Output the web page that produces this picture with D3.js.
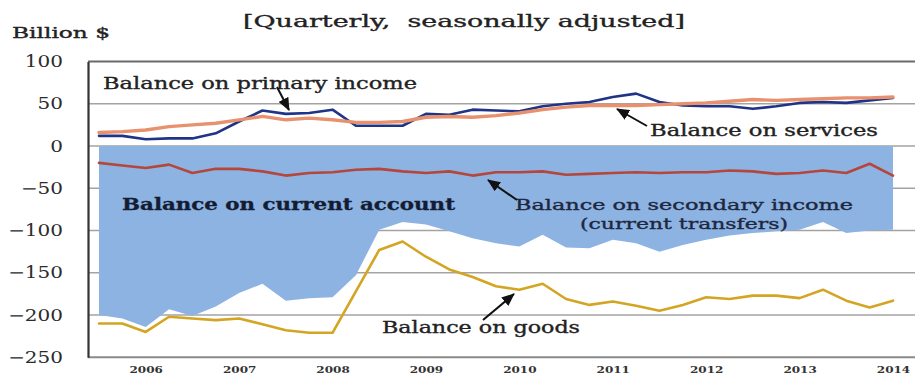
<!DOCTYPE html>
<html>
<head>
<meta charset="utf-8">
<script src="https://cdn.jsdelivr.net/npm/d3@7"></script>
<style>
  html, body { margin: 0; padding: 0; background: #fff; }
  svg { display: block; }
  text { font-family: "DejaVu Serif", "Liberation Serif", serif; }
</style>
</head>
<body>
<svg id="chart" width="915" height="376"></svg>
<script>
// Quarterly categories, 2005 Q3 through 2014 Q1
const quarters = [
  "2005Q3","2005Q4",
  "2006Q1","2006Q2","2006Q3","2006Q4",
  "2007Q1","2007Q2","2007Q3","2007Q4",
  "2008Q1","2008Q2","2008Q3","2008Q4",
  "2009Q1","2009Q2","2009Q3","2009Q4",
  "2010Q1","2010Q2","2010Q3","2010Q4",
  "2011Q1","2011Q2","2011Q3","2011Q4",
  "2012Q1","2012Q2","2012Q3","2012Q4",
  "2013Q1","2013Q2","2013Q3","2013Q4",
  "2014Q1"
];
const yearLabels = ["2006","2007","2008","2009","2010","2011","2012","2013","2014"];
const yTicks = [100, 50, 0, -50, -100, -150, -200, -250];

// Balances, billion dollars
const currentAccount = [-200,-204,-214,-193,-201,-190,-174,-163,-183,-180,
  -179,-153,-99,-90,-93,-101,-109,-115,-119,-105,
  -120,-121,-111,-115,-125,-117,-111,-106,-103,-101,
  -99,-90,-103,-100,-99];
const goods = [-210,-210,-220,-202,-204,-206,-204,-211,-218,-221,
  -221,-172,-123,-113,-131,-146,-155,-166,-170,-163,
  -181,-188,-184,-189,-195,-188,-179,-181,-177,-177,
  -180,-170,-183,-191,-183];
const secondaryIncome = [-20,-23,-26,-22,-32,-27,-27,-30,-35,-32,
  -31,-28,-27,-30,-32,-30,-35,-31,-31,-30,
  -34,-33,-32,-31,-32,-31,-31,-29,-30,-33,
  -32,-29,-32,-21,-35];
const primaryIncome = [12,12,8,9,9,15,29,42,38,39,
  43,24,24,24,38,37,43,42,41,47,
  50,52,58,62,52,48,47,47,44,47,
  51,52,51,54,57];
const services = [16,17,19,23,25,27,31,35,31,33,
  31,28,28,29,34,35,34,36,39,43,
  46,48,48,48,49,50,51,53,55,54,
  55,56,57,57,58];

const svg = d3.select("#chart");
const plotLeft = 88, plotRight = 915, plotTop = 61.5, plotBottom = 357.3;

const x = d3.scalePoint().domain(quarters).range([99, 893]);
const y = d3.scaleLinear().domain([-250, 100]).range([plotBottom, plotTop]);

// Horizontal gridlines
svg.append("g")
  .selectAll("line")
  .data(yTicks.filter(v => v !== 100 && v !== -250))
  .join("line")
  .attr("x1", plotLeft).attr("x2", plotRight)
  .attr("y1", d => y(d)).attr("y2", d => y(d))
  .attr("stroke", "#a3a3a3").attr("stroke-width", 1.6);

// Top border at 100
svg.append("line")
  .attr("x1", plotLeft).attr("x2", plotRight)
  .attr("y1", y(100)).attr("y2", y(100))
  .attr("stroke", "#6a6a6a").attr("stroke-width", 2.2);

// Current account as a filled area below zero
const area = d3.area()
  .x((d, i) => x(quarters[i]))
  .y0(y(0))
  .y1(d => y(d));
svg.append("path")
  .datum(currentAccount)
  .attr("d", area)
  .attr("fill", "#8db3e2");

const line = d3.line().x((d, i) => x(quarters[i])).y(d => y(d));
function drawSeries(values, color, width) {
  svg.append("path")
    .datum(values)
    .attr("d", line)
    .attr("fill", "none")
    .attr("stroke", color)
    .attr("stroke-width", width)
    .attr("stroke-linejoin", "round")
    .attr("stroke-linecap", "round");
}
drawSeries(goods, "#d4a522", 2.6);
drawSeries(secondaryIncome, "#b4463b", 2.6);
drawSeries(primaryIncome, "#1f3486", 2.6);
drawSeries(services, "#e8916f", 3.4);

// Bottom axis line
svg.append("line")
  .attr("x1", plotLeft).attr("x2", plotRight)
  .attr("y1", plotBottom).attr("y2", plotBottom)
  .attr("stroke", "#8a8a8a").attr("stroke-width", 2);

// Left axis
const yAxis = svg.append("g")
  .attr("transform", `translate(${plotLeft},0)`)
  .call(d3.axisLeft(y).tickValues(yTicks).tickSize(0).tickPadding(20)
    .tickFormat(d => d3.format("d")(d)));
yAxis.select(".domain").attr("stroke", "#333").attr("stroke-width", 2.2);
yAxis.selectAll("text")
  .attr("font-size", 16)
  .attr("fill", "#2b2b2b")
  .attr("transform", "scale(1.25,1)");

// Bottom year labels
const xAxis = svg.append("g")
  .attr("transform", `translate(0,${plotBottom})`)
  .call(d3.axisBottom(x).tickValues(yearLabels.map(yr => yr + "Q1"))
    .tickSize(0).tickPadding(9).tickFormat(d => d.slice(0, 4)));
xAxis.select(".domain").remove();
xAxis.selectAll("text")
  .attr("font-size", 10)
  .attr("font-weight", "bold")
  .attr("fill", "#333")
  .attr("transform", "scale(1.2,1)");

// Text labels
function label(str, x0, x1, baseline, opts = {}) {
  svg.append("text")
    .attr("x", x0).attr("y", baseline)
    .attr("textLength", x1 - x0)
    .attr("lengthAdjust", "spacingAndGlyphs")
    .attr("font-size", opts.size || 16)
    .attr("font-weight", opts.weight || "normal")
    .attr("fill", opts.color || "#222")
    .attr("stroke", opts.color || "#222")
    .attr("stroke-width", opts.stroke === undefined ? 0.35 : opts.stroke)
    .style("white-space", "pre")
    .text(str);
}
label("[Quarterly,  seasonally adjusted]", 243, 685, 27, { size: 17 });
label("Billion $", 12, 110, 38, { size: 15 });
label("Balance on primary income", 103, 417, 89, { size: 16 });
label("Balance on services", 650, 878, 136, { size: 16 });
label("Balance on current account", 122, 455, 210, { size: 16, weight: "bold", color: "#141c33", stroke: 0.3 });
label("Balance on secondary income", 515, 853, 210, { size: 15, color: "#1e2740" });
label("(current transfers)", 580, 788, 229, { size: 15, color: "#1e2740" });
label("Balance on goods", 382, 580, 333, { size: 16 });

// Pointer arrows
svg.append("defs").append("marker")
  .attr("id", "head")
  .attr("markerUnits", "userSpaceOnUse")
  .attr("markerWidth", 13).attr("markerHeight", 11)
  .attr("refX", 12).attr("refY", 5.5)
  .attr("orient", "auto")
  .append("path")
  .attr("d", "M0,0 L13,5.5 L0,11 Z")
  .attr("fill", "#111");

const arrows = [
  [277, 87, 289, 110],
  [647, 126, 617, 109],
  [517, 200, 488, 180],
  [483, 320, 514, 294]
];
svg.append("g").selectAll("line")
  .data(arrows)
  .join("line")
  .attr("x1", d => d[0]).attr("y1", d => d[1])
  .attr("x2", d => d[2]).attr("y2", d => d[3])
  .attr("stroke", "#111").attr("stroke-width", 2)
  .attr("marker-end", "url(#head)");
</script>
</body>
</html>
